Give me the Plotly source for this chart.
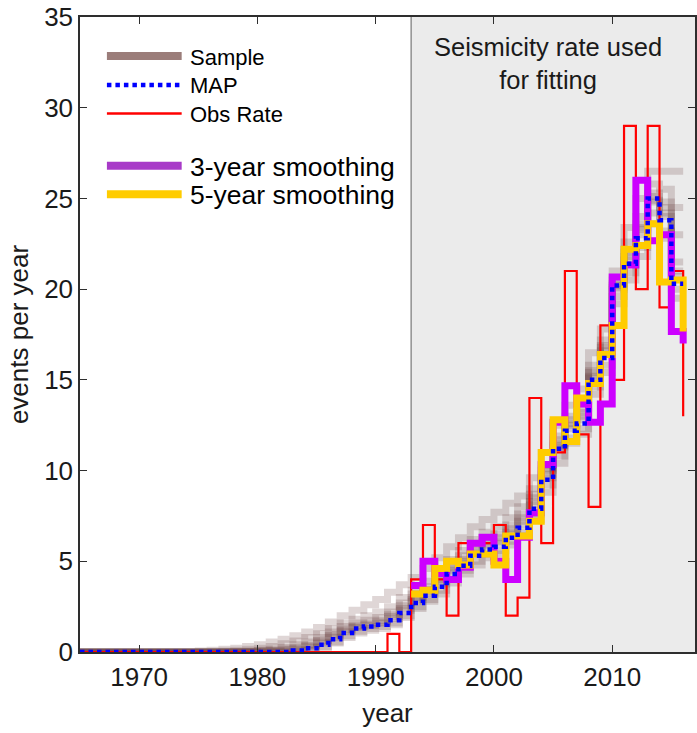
import plotly.graph_objects as go

# ---------------- data ----------------
years = list(range(1965, 2017))  # 1965 .. 2016

obs_rate = [0]*26 + [1, 0, 4, 7, 4, 2, 6, 6, 6, 7, 2, 3, 14, 6, 11, 21, 12, 8,
                     18, 15, 29, 20, 29, 19, 21, 13]

map_rate = [0]*18 + [0.08, 0.2, 0.4, 0.7, 1.05, 1.3, 1.4, 1.5, 1.75, 2.15,
                     2.7, 3.1, 3.6, 4.3, 4.75, 5.3, 5.65, 5.8, 6.3, 6.85,
                     7.9, 9.5, 11.2, 12.2, 12.6, 15.0, 16.2, 20.2, 21.4, 22.8,
                     25.0, 23.8, 20.3, 20.3]

smooth_years = list(range(1993, 2017))
smooth3 = [3.67, 5.0, 4.33, 4.0, 4.67, 6.0, 6.33, 5.0, 4.0, 6.33, 7.67, 10.33,
           12.67, 14.67, 13.67, 12.67, 13.67, 20.67, 21.33, 26.0, 22.67, 23.0,
           17.67, 17.0]
smooth5 = [3.2, 3.4, 4.6, 5.0, 4.8, 5.4, 5.4, 4.8, 6.4, 6.4, 7.2, 11.0, 12.8,
           11.6, 14.0, 14.8, 16.4, 18.0, 22.2, 22.4, 23.6, 20.4, 20.5, 17.67]

# posterior samples (1975 .. 2016), preceded by zeros for 1965 .. 1974
sample_years = years
samples = [
    [0]*10 + [0, 0, 0, 0, 0.02, 0.05, 0.08, 0.12, 0.2, 0.35, 0.6, 0.9, 1.2, 1.4, 1.5, 1.65,
              1.95, 2.4, 2.9, 3.3, 3.9, 4.5, 5.0, 5.5, 5.9, 6.1, 6.6, 7.2, 8.3, 9.8,
              11.4, 12.5, 13.0, 15.2, 16.6, 20.0, 21.8, 23.3, 24.8, 24.2, 21.0, 21.0],
    [0]*10 + [0, 0.02, 0.05, 0.1, 0.15, 0.2, 0.3, 0.45, 0.6, 0.8, 1.0, 1.3, 1.6, 1.8, 2.0,
              2.2, 2.5, 3.0, 3.4, 3.9, 4.5, 5.1, 5.6, 6.2, 6.6, 6.9, 7.4, 8.0, 9.0,
              10.3, 11.9, 13.0, 13.8, 15.8, 17.2, 20.5, 22.6, 24.0, 25.8, 25.5, 24.5, 24.5],
    [0]*10 + [0.05, 0.1, 0.15, 0.2, 0.3, 0.4, 0.55, 0.7, 0.9, 1.1, 1.35, 1.65, 2.0, 2.3,
              2.6, 2.9, 3.3, 3.7, 4.1, 4.6, 5.2, 5.8, 6.3, 6.9, 7.3, 7.7, 8.2, 8.6,
              9.6, 11.0, 12.5, 13.6, 14.5, 16.5, 17.8, 21.0, 23.4, 25.0, 26.5, 26.5, 26.5, 26.5],
    [0]*10 + [0, 0, 0, 0, 0, 0, 0, 0.02, 0.05, 0.12, 0.3, 0.55, 0.9, 1.15, 1.3, 1.4, 1.6,
              2.0, 2.5, 2.9, 3.4, 4.0, 4.5, 5.0, 5.4, 5.6, 6.1, 6.6, 7.6, 9.2, 10.8,
              11.8, 12.3, 14.6, 15.8, 19.6, 20.9, 22.3, 24.2, 23.2, 20.0, 20.0],
    [0]*10 + [0, 0, 0.01, 0.03, 0.06, 0.1, 0.15, 0.25, 0.4, 0.55, 0.8, 1.1, 1.4, 1.6, 1.75,
              1.9, 2.2, 2.7, 3.2, 3.6, 4.2, 4.8, 5.3, 5.9, 6.3, 6.5, 7.0, 7.6, 8.7,
              10.1, 11.7, 12.8, 13.4, 15.5, 16.9, 20.3, 22.2, 23.6, 25.3, 24.8, 23.0, 23.0],
    [0]*10 + [0, 0, 0, 0, 0, 0, 0, 0, 0.02, 0.1, 0.25, 0.5, 0.8, 1.05, 1.2, 1.3, 1.5, 1.9,
              2.4, 2.8, 3.2, 3.8, 4.3, 4.8, 5.2, 5.4, 5.9, 6.4, 7.3, 8.8, 10.4, 11.5,
              12.0, 14.2, 15.4, 19.2, 20.5, 21.8, 23.6, 22.8, 19.5, 19.5],
    [0]*10 + [0, 0, 0, 0, 0, 0.02, 0.04, 0.08, 0.15, 0.28, 0.5, 0.8, 1.12, 1.35, 1.45, 1.58,
              1.85, 2.3, 2.8, 3.2, 3.75, 4.4, 4.9, 5.4, 5.8, 6.0, 6.5, 7.0, 8.1, 9.6,
              11.3, 12.3, 12.8, 15.1, 16.4, 20.1, 21.6, 23.0, 24.9, 24.0, 20.7, 20.7],
    [0]*10 + [0, 0, 0, 0.01, 0.03, 0.06, 0.1, 0.16, 0.25, 0.4, 0.65, 0.95, 1.25, 1.45, 1.6,
              1.75, 2.05, 2.55, 3.0, 3.45, 4.0, 4.65, 5.1, 5.7, 6.1, 6.3, 6.8, 7.4, 8.5,
              10.0, 11.5, 12.6, 13.2, 15.4, 16.8, 20.2, 22.0, 23.4, 25.1, 24.5, 21.5, 21.5],
]

fit_start = 1993
x_range = [1965, 2017]
y_range = [0, 35]
x_ticks = [1970, 1980, 1990, 2000, 2010]
y_ticks = [0, 5, 10, 15, 20, 25, 30, 35]

legend_labels = ["Sample", "MAP", "Obs Rate", "3-year smoothing", "5-year smoothing"]

# ---------------- styles ----------------
FONT = "Liberation Sans, Arial, Helvetica, sans-serif"
C_SAMPLE = "rgba(95,52,48,0.2)"
C_SAMPLE_LEG = "rgb(155,125,122)"
C_MAP = "#0000FF"
C_OBS = "#FF0000"
C_S3 = "#CC00FF"
C_S3_LEG = "rgb(168,58,200)"
C_S5 = "#FFCC00"

fig = go.Figure()

for s in samples:
    fig.add_trace(go.Scatter(x=sample_years, y=s, mode="lines", line_shape="hv",
                             line=dict(color=C_SAMPLE, width=7), showlegend=False,
                             hoverinfo="skip"))

fig.add_trace(go.Scatter(x=years, y=obs_rate, mode="lines", line_shape="hv",
                         line=dict(color=C_OBS, width=2.2), name="Obs Rate", showlegend=False))
fig.add_trace(go.Scatter(x=smooth_years, y=smooth3, mode="lines", line_shape="hv",
                         line=dict(color=C_S3, width=7), name="3-year smoothing", showlegend=False))
fig.add_trace(go.Scatter(x=smooth_years, y=smooth5, mode="lines", line_shape="hv",
                         line=dict(color=C_S5, width=7), name="5-year smoothing", showlegend=False))
fig.add_trace(go.Scatter(x=years, y=map_rate, mode="lines", line_shape="hv",
                         line=dict(color=C_MAP, width=4.5, dash="4.5px,4px"), name="MAP",
                         showlegend=False))

# shaded fitting region
fig.add_shape(type="rect", xref="x", yref="y", x0=fit_start, x1=x_range[1],
              y0=y_range[0], y1=y_range[1], fillcolor="#EBEBEB", line_width=0, layer="below")
fig.add_shape(type="line", xref="x", yref="y", x0=fit_start, x1=fit_start,
              y0=y_range[0], y1=y_range[1], line=dict(color="#8f8f8f", width=1.5), layer="below")

# ---------------- manual legend ----------------
L, R, T, B = 80, 697, 17, 652
def px(xp):
    return (xp - L) / (R - L)
def py(yp):
    return (B - yp) / (B - T)

leg_rows = [56, 85, 113.5, 165.7, 194.3]
leg_styles = [dict(color=C_SAMPLE_LEG, width=8), dict(color=C_MAP, width=4.5, dash="4.5px,4px"),
              dict(color=C_OBS, width=2.5), dict(color=C_S3_LEG, width=8),
              dict(color=C_S5, width=8)]
leg_sizes = [22, 22, 22, 26.5, 26.5]
for yy, st, lab, fs in zip(leg_rows, leg_styles, legend_labels, leg_sizes):
    fig.add_shape(type="line", xref="paper", yref="paper", x0=px(107), x1=px(182),
                  y0=py(yy), y1=py(yy), line=st)
    fig.add_annotation(xref="paper", yref="paper", x=px(188), y=py(yy + 1), text=lab,
                       showarrow=False, xanchor="left", yanchor="middle",
                       font=dict(family=FONT, size=fs, color="black"))

fig.add_annotation(xref="paper", yref="paper", x=px(550), y=py(64),
                   text="Seismicity rate used<br>for fitting", showarrow=False,
                   xanchor="center", yanchor="middle", align="center",
                   font=dict(family=FONT, size=25.5, color="#1a1a1a"))

axis_common = dict(showline=True, linecolor="#2e2e2e", linewidth=1.5, mirror="ticks",
                   ticks="inside", ticklen=7, tickwidth=1.2, tickcolor="#2e2e2e",
                   showgrid=False, zeroline=False,
                   tickfont=dict(family=FONT, size=26, color="#1a1a1a"))

fig.update_layout(
    width=697, height=733,
    margin=dict(l=L, r=697 - R, t=T, b=733 - B),
    paper_bgcolor="white", plot_bgcolor="white",
    showlegend=False,
    xaxis=dict(range=x_range, tickvals=x_ticks, ticklabelstandoff=1, **axis_common,
               title=dict(text="year", font=dict(family=FONT, size=26, color="#1a1a1a"), standoff=13)),
    yaxis=dict(range=y_range, tickvals=y_ticks, **axis_common,
               title=dict(text="events per year", font=dict(family=FONT, size=26, color="#1a1a1a"),
                          standoff=8)),
)

fig.write_html("out.html")
